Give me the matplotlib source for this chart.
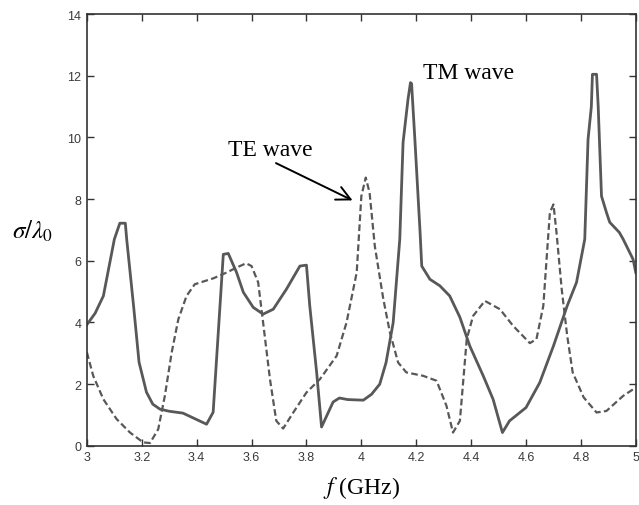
import numpy as np
import matplotlib
matplotlib.use('Agg')
import matplotlib.pyplot as plt

plt.rcParams['mathtext.fontset'] = 'stix'
plt.rcParams['font.family'] = ['Liberation Sans', 'DejaVu Sans']

# TM wave (solid)
tm_f = [3.0, 3.03, 3.06, 3.10, 3.12, 3.14, 3.145, 3.17, 3.19, 3.217, 3.24, 3.266, 3.30, 3.35, 3.436, 3.46,
        3.497, 3.515, 3.545, 3.57, 3.606, 3.642, 3.679, 3.727, 3.776, 3.80, 3.812, 3.837, 3.855,
        3.897, 3.92, 3.95, 4.007, 4.037, 4.067, 4.09, 4.116, 4.14, 4.152, 4.17, 4.179, 4.183,
        4.195, 4.214, 4.22, 4.25, 4.286, 4.322, 4.359, 4.395, 4.444, 4.48, 4.514, 4.54, 4.60,
        4.65, 4.70, 4.75, 4.784, 4.814, 4.826, 4.838, 4.842, 4.857, 4.863, 4.875, 4.893, 4.905,
        4.94, 4.954, 4.99, 5.0]
tm_s = [3.93, 4.3, 4.86, 6.7, 7.22, 7.22, 6.7, 4.54, 2.71, 1.74, 1.35, 1.19, 1.12, 1.06, 0.70, 1.09,
        6.21, 6.24, 5.63, 4.98, 4.49, 4.27, 4.43, 5.08, 5.83, 5.86, 4.54, 2.39, 0.61,
        1.42, 1.55, 1.50, 1.48, 1.67, 2.0, 2.70, 4.0, 6.7, 9.84, 11.24, 11.78, 11.75,
        9.94, 6.92, 5.83, 5.40, 5.19, 4.86, 4.17, 3.24, 2.27, 1.51, 0.43, 0.81, 1.24,
        2.05, 3.24, 4.54, 5.30, 6.70, 9.94, 11.0, 12.05, 12.05, 11.0, 8.10, 7.57, 7.25,
        6.92, 6.7, 6.05, 5.62]

# TE wave (dashed)
te_f = [3.0, 3.023, 3.06, 3.108, 3.157, 3.205, 3.23, 3.26, 3.284, 3.309, 3.333, 3.363, 3.393,
        3.46, 3.509, 3.545, 3.58, 3.60, 3.624, 3.642, 3.667, 3.69, 3.715, 3.752, 3.80, 3.849,
        3.91, 3.946, 3.983, 4.0, 4.016, 4.03, 4.049, 4.08, 4.104, 4.134, 4.164, 4.225, 4.274,
        4.31, 4.334, 4.359, 4.384, 4.407, 4.45, 4.505, 4.553, 4.614, 4.638, 4.663, 4.68, 4.687,
        4.70, 4.711, 4.73, 4.75, 4.77, 4.81, 4.857, 4.893, 4.954, 5.0]
te_s = [3.03, 2.27, 1.51, 0.87, 0.43, 0.11, 0.09, 0.54, 1.62, 3.03, 4.1, 4.86, 5.24,
        5.43, 5.62, 5.78, 5.92, 5.83, 5.30, 4.0, 2.16, 0.81, 0.56, 1.08, 1.73, 2.16,
        2.92, 4.0, 5.62, 8.1, 8.70, 8.21, 6.48, 4.76, 3.68, 2.70, 2.38, 2.27, 2.11,
        1.30, 0.43, 0.81, 3.46, 4.21, 4.70, 4.43, 3.89, 3.33, 3.46, 4.54, 6.70, 7.57,
        7.83, 6.92, 5.08, 3.57, 2.38, 1.57, 1.08, 1.13, 1.62, 1.89]

xticks = [3, 3.2, 3.4, 3.6, 3.8, 4, 4.2, 4.4, 4.6, 4.8, 5]
xticklabels = ['3', '3.2', '3.4', '3.6', '3.8', '4', '4.2', '4.4', '4.6', '4.8', '5']
yticks = [0, 2, 4, 6, 8, 10, 12, 14]

fig = plt.figure(figsize=(6.39, 5.06), dpi=100)
ax = fig.add_axes([0.136, 0.117, 0.859, 0.853])

lc = '#585858'
ax.plot(tm_f, tm_s, '-', color=lc, lw=2.0)
ax.plot(te_f, te_s, '--', color=lc, lw=1.6, dashes=(3, 1.5))

ax.set_xlim(3, 5)
ax.set_ylim(0, 14)
ax.set_xticks(xticks)
ax.set_xticklabels(xticklabels)
ax.set_yticks(yticks)
ax.tick_params(direction='in', top=True, right=True, length=5, width=1,
               labelsize=9, labelcolor='#3a3a3a', color='#333333', pad=4)
for s in ax.spines.values():
    s.set_color('#333333')
    s.set_linewidth(1.2)

serif = ['Liberation Serif', 'DejaVu Serif']
ax.set_xlabel(r'$f$ (GHz)', fontsize=17, family=serif, labelpad=8)
ax.set_ylabel(r'$\sigma/\lambda_0$', fontsize=18, rotation=0, labelpad=25, va='center')

ax.annotate('TE wave', xy=(3.968, 7.96), xytext=(3.514, 9.6),
            fontsize=17, family=serif, va='center', ha='left',
            arrowprops=dict(arrowstyle='->', color='black', lw=1.4,
                            shrinkA=0, shrinkB=0, mutation_scale=25,
                            relpos=(0.5, 0.0)))
ax.text(4.224, 12.1, 'TM wave', fontsize=17, family=serif, va='center', ha='left')

fig.savefig('out.png', dpi=100)
